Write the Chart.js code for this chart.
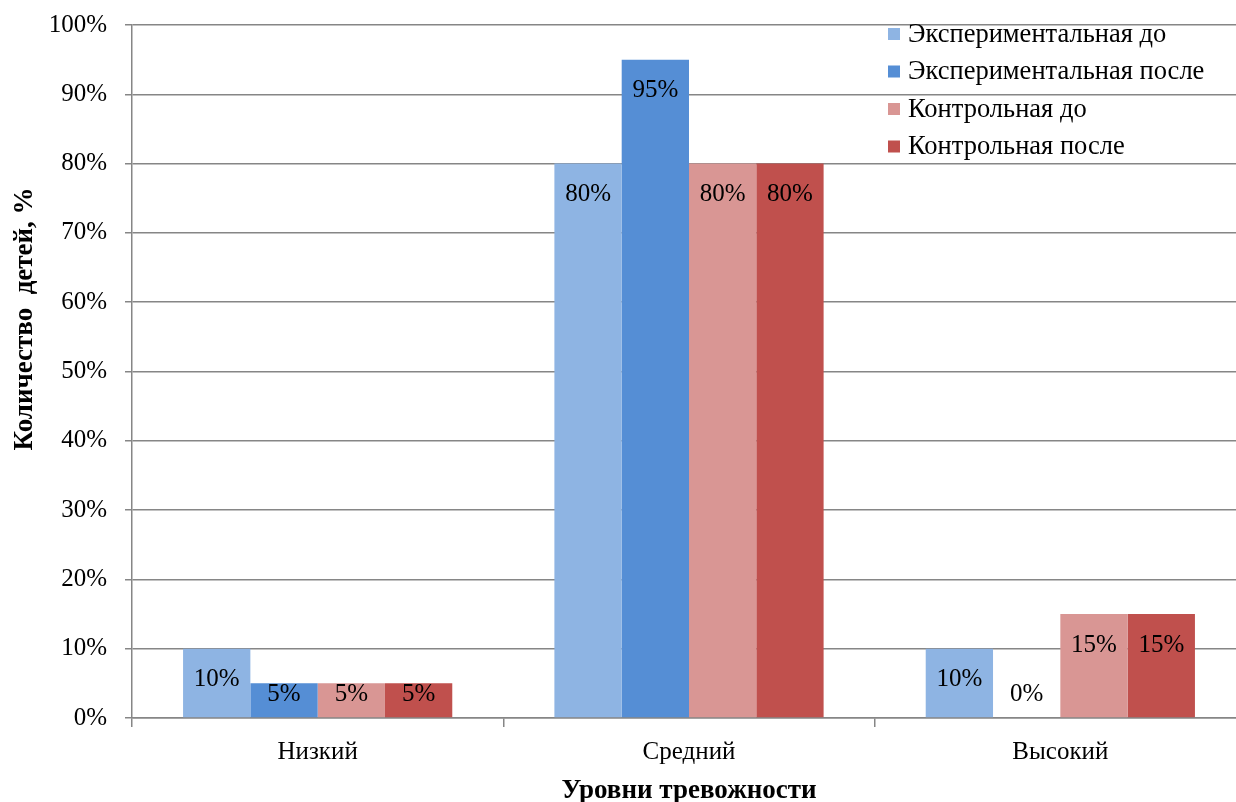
<!DOCTYPE html>
<html>
<head>
<meta charset="utf-8">
<script src="https://cdn.jsdelivr.net/npm/chart.js@4/dist/chart.umd.min.js"></script>
<style>
  html, body { margin: 0; padding: 0; background: #fff; overflow: hidden; }
  #wrap { position: absolute; left: 0; top: 0; width: 1246px; height: 802px; }
</style>
</head>
<body>
<div id="wrap"><canvas id="c" width="1246" height="802"></canvas></div>
<script>
// Anxiety levels and share of children per group (%)
const levels = ['Низкий', 'Средний', 'Высокий'];
const expBefore = [10, 80, 10];
const expAfter = [5, 95, 0];
const ctrlBefore = [5, 80, 15];
const ctrlAfter = [5, 80, 15];
const seriesNames = ['Экспериментальная до', 'Экспериментальная после', 'Контрольная до', 'Контрольная после'];
const seriesColors = ['#8EB4E3', '#558ED5', '#D99694', '#C0504D'];
const yTitle = 'Количество  детей, %';
const xTitle = 'Уровни тревожности';

const SERIF = '"Liberation Serif", "Times New Roman", serif';
const GRID = '#868686';

// value labels inside the top of each bar
const valueLabels = {
  id: 'valueLabels',
  afterDatasetsDraw(chart) {
    const ctx = chart.ctx;
    const base = chart.scales.y.getPixelForValue(0);
    ctx.save();
    ctx.font = '25px ' + SERIF;
    ctx.fillStyle = '#000';
    ctx.textAlign = 'center';
    ctx.textBaseline = 'middle';
    chart.data.datasets.forEach((ds, i) => {
      chart.getDatasetMeta(i).data.forEach((bar, j) => {
        const y = Math.min(bar.y + 31, base - 24);
        ctx.fillText(ds.data[j] + '%', bar.x, y);
      });
    });
    ctx.restore();
  }
};

// legend in the upper right of the plot, plus the rotated y title
const overlay = {
  id: 'overlay',
  afterDraw(chart) {
    const ctx = chart.ctx;
    ctx.save();
    ctx.font = '26.5px ' + SERIF;
    ctx.textBaseline = 'middle';
    ctx.textAlign = 'left';
    chart.data.datasets.forEach((ds, i) => {
      const y = 34 + i * 37.5;
      ctx.fillStyle = ds.backgroundColor;
      ctx.fillRect(888, y - 6, 12, 12);
      ctx.fillStyle = '#000';
      ctx.fillText(ds.label, 908, y + 1);
    });
    ctx.translate(25, 319);
    ctx.rotate(-Math.PI / 2);
    ctx.textAlign = 'center';
    ctx.font = 'bold 27px ' + SERIF;
    ctx.fillText(yTitle, 0, 0);
    ctx.restore();
  }
};

new Chart(document.getElementById('c'), {
  type: 'bar',
  data: {
    labels: levels,
    datasets: [expBefore, expAfter, ctrlBefore, ctrlAfter].map((d, i) => ({
      label: seriesNames[i],
      data: d,
      backgroundColor: seriesColors[i],
      borderWidth: 0,
      barPercentage: 1,
      categoryPercentage: 0.725
    }))
  },
  options: {
    responsive: false,
    animation: false,
    layout: { padding: { top: 25, right: 0, bottom: 0, left: 0 } },
    plugins: { legend: { display: false }, tooltip: { enabled: false } },
    scales: {
      x: {
        afterFit(s) { s.height = 84; s.paddingLeft = 0; s.paddingRight = 0; },
        border: { color: GRID, width: 1.5 },
        grid: { offset: true, drawOnChartArea: false, drawTicks: true, tickLength: 9, color: GRID, lineWidth: 1.5 },
        ticks: { color: '#000', font: { family: SERIF, size: 25 }, padding: 10 },
        title: { display: true, text: xTitle, color: '#000', font: { family: SERIF, size: 27, weight: 'bold', lineHeight: 0.8 }, padding: { top: 4, bottom: 0 } }
      },
      y: {
        min: 0, max: 100,
        afterFit(s) { s.width = 132; s.paddingTop = 0; s.paddingBottom = 0; },
        border: { color: GRID, width: 1.5 },
        grid: { color: GRID, lineWidth: 1.5, tickLength: 7 },
        ticks: { stepSize: 10, color: '#000', font: { family: SERIF, size: 25 }, padding: 18, callback: v => v + '%' }
      }
    }
  },
  plugins: [valueLabels, overlay]
});
</script>
</body>
</html>
